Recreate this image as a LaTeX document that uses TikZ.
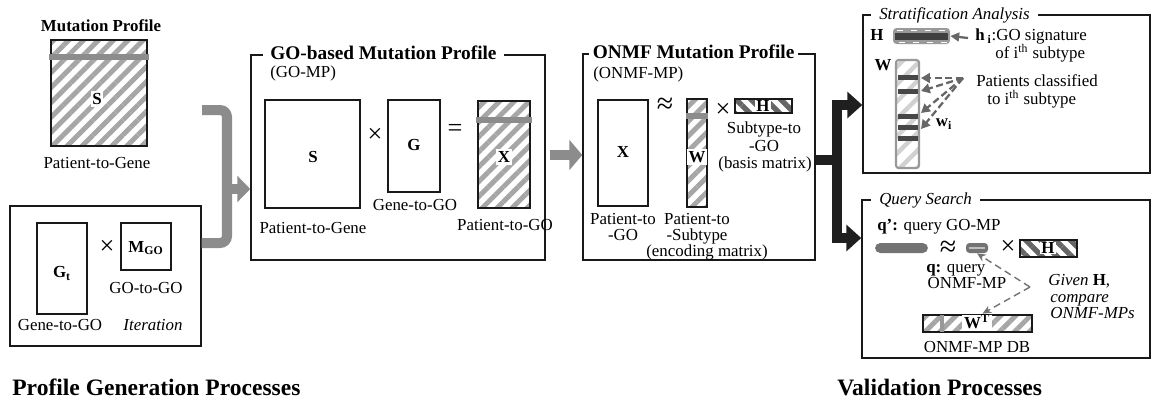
\documentclass[tikz,border=0pt]{standalone}
\usepackage{fontspec}
\setmainfont{Liberation Serif}
\usetikzlibrary{arrows.meta,patterns.meta,fit}
\begin{document}
\begin{tikzpicture}[x=0.02cm,y=-0.02cm,
  lab/.style={font=\fontsize{9.6}{11}\selectfont, inner sep=0pt, text height=0.66em, text depth=0pt},
  labb/.style={lab, font=\fontsize{9.6}{11}\selectfont\bfseries},
  labi/.style={lab, font=\fontsize{9.6}{11}\selectfont\itshape},
  mlab/.style={labb, fill=white, inner sep=1pt},
  ttl/.style={font=\fontsize{11}{13}\selectfont\bfseries, fill=white, inner ysep=1pt, text height=0.7em, text depth=0.2em, anchor=west},
  ittl/.style={font=\fontsize{9.6}{11}\selectfont\itshape, fill=white, inner ysep=1pt, inner xsep=4.5pt, text height=0.7em, text depth=0.2em, anchor=west},
  sect/.style={font=\fontsize{13.4}{16}\selectfont\bfseries, inner sep=0pt, text height=0.66em, text depth=0pt, anchor=west},
  op/.style={inner sep=0pt, font=\fontsize{15}{15}\selectfont},
  apx/.style={inner sep=0pt, font=\fontsize{17}{17}\selectfont, text height=0.42em, text depth=0pt},
  frame/.style={draw=black!90, line width=0.85pt, inner sep=0pt},
  mat/.style={draw=black!90, line width=1.6pt, inner sep=0pt},
  hatch/.style={pattern={Lines[angle=45,distance=6pt,line width=2.8pt]}, pattern color=black!35},
  dhatch/.style={pattern={Lines[angle=-45,distance=6pt,line width=3pt]}, pattern color=black!60},
  gbar/.style={draw=black!45, line width=3.4pt},
  garrow/.style={draw=black!45, line width=5.7pt},
  barrow/.style={draw=black!88, line width=5.7pt},
  darr/.style={draw=black!60, line width=1.3pt, dash pattern=on 4pt off 2pt, -{Triangle[length=5pt,width=5.5pt]}},
  qarr/.style={draw=black!55, line width=0.8pt, dash pattern=on 4pt off 2.5pt, -{Stealth[length=5pt,width=4.5pt]}}
]
\fill[white] (0,0) rectangle (1152,407);
\useasboundingbox (0,0) rectangle (1152,407);

% ---------- Mutation profile (top left)
\node[labb] (mptitle) at (101,26) {Mutation Profile};
\node[mat, hatch, fit={(51,40) (147,146)}] (S0) {};
\coordinate (s0bl) at (49,57); \coordinate (s0br) at (149,57);
\draw[gbar] (s0bl) -- (s0br);
\node[mlab] (S0l) at (97,99) {S};
\node[lab] (S0c) at (97,163) {Patient-to-Gene};

% ---------- Iteration box
\node[frame, fit={(10,206) (201,346)}] (iter) {};
\node[mat, fit={(37,223) (87,314)}] (Gt) {};
\node[labb] (Gtl) at (62,272) {G\textsubscript{t}};
\node[op] (x1) at (107,247) {×};
\node[mat, fit={(121,223) (171,270)}] (MGO) {};
\node[labb] (MGOl) at (MGO.center) {M\textsubscript{GO}};
\node[lab] (MGOc) at (146,288) {GO-to-GO};
\node[lab] (Gtc) at (60,325) {Gene-to-GO};
\node[labi] (itl) at (153,325) {Iteration};
\node[sect] (pgp) at (12,390) {Profile Generation Processes};

% ---------- GO-MP box
\node[frame, fit={(251,55) (545,260)}] (gomp) {};
\node[ttl, inner xsep=4pt] (gompt) at (263,55) {GO-based Mutation Profile};
\node[lab, anchor=west] (gomps) at (270,72) {(GO-MP)};
\node[mat, fit={(265,100) (360,208)}] (S1) {};
\node[labb] (S1l) at (313,157) {S};
\node[op] (x2) at (375,135) {×};
\node[mat, fit={(388,100) (440,192)}] (G1) {};
\node[labb] (G1l) at (414,145) {G};
\node[lab] (G1c) at (415,205) {Gene-to-GO};
\node[op] (eq) at (455,130) {=};
\node[mat, hatch, fit={(478,101) (530,208)}] (X1) {};
\coordinate (x1bl) at (476,120); \coordinate (x1br) at (532,120);
\draw[gbar] (x1bl) -- (x1br);
\node[mlab] (X1l) at (504,157) {X};
\node[lab] (S1c) at (313,228) {Patient-to-Gene};
\node[lab] (X1c) at (505,225) {Patient-to-GO};

% ---------- ONMF box
\node[frame, fit={(583,54) (815,260)}] (onmf) {};
\node[ttl, inner xsep=2pt] (onmft) at (589,54) {ONMF Mutation Profile};
\node[lab, anchor=west] (onmfs) at (593,73) {(ONMF-MP)};
\node[mat, fit={(598,100) (648,206)}] (X2) {};
\node[labb] (X2l) at (623,152) {X};
\node[apx] (ap1) at (665,110) {≈};
\node[mat, hatch, fit={(687,99) (707,207)}] (W2) {};
\coordinate (w2bl) at (686,116); \coordinate (w2br) at (708,116);
\draw[gbar] (w2bl) -- (w2br);
\node[mlab] (W2l) at (697,157) {W};
\node[op] (x3) at (723,110) {×};
\node[mat, dhatch, fit={(735,99) (792,113)}] (H2) {};
\node[mlab, inner ysep=0.3pt] (H2l) at (763,106) {H};
\node[lab] (H2c1) at (764,128) {Subtype-to};
\node[lab] (H2c2) at (764,146) {-GO};
\node[lab] (H2c3) at (765,163) {(basis matrix)};
\node[lab] (X2c1) at (623,219) {Patient-to};
\node[lab] (X2c2) at (623,235) {-GO};
\node[lab] (W2c1) at (697,219) {Patient-to};
\node[lab] (W2c2) at (697,235) {-Subtype};
\node[lab] (W2c3) at (707,251) {(encoding matrix)};

% ---------- gray arrows
\coordinate (g1s) at (202,110);
\coordinate (g1c) at (227,110);
\coordinate (g1b) at (227,243);
\coordinate (g1m) at (227,189);
\draw[garrow, rounded corners=4pt] (g1s) -- (g1c) -- (g1b) -- (iter.east |- g1b);
\draw[garrow, -{Triangle[length=7.4pt,width=14.7pt]}] (g1m) -- (gomp.west |- g1m);
\coordinate (g2s) at (550,155);
\draw[garrow, -{Triangle[length=7.4pt,width=17pt]}] (g2s) -- (onmf.west |- g2s);

% ---------- Stratification analysis
\node[frame, fit={(863,15) (1150,173)}] (strat) {};
\node[ittl] (stratt) at (871,15) {Stratification Analysis};
\node[labb] (Hs) at (877,35) {H};
\node[fit={(893,28) (950,44)}, inner sep=0pt, fill=black!40, rounded corners=2pt] (hbar) {};
\fill[black!75] (895,33) rectangle (948,40);
\draw[white, line width=1pt, dash pattern=on 3.5pt off 4.5pt] (897,30.5) -- (948,30.5);
\draw[white, line width=1pt, dash pattern=on 3.5pt off 4.5pt] (899,42.5) -- (948,42.5);
\coordinate (hsrc) at (968,38);
\draw[draw=black!60, line width=1.3pt, -{Triangle[length=5pt,width=5pt]}] (hsrc) -- (hbar.east);
\node[lab, anchor=west] (hsig1) at (975,35) {\textbf{h}\,\textsubscript{\textbf{i}}:GO signature};
\node[lab, anchor=west] (hsig2) at (995,53) {of i\textsuperscript{th} subtype};
\node[labb] (Ws) at (883,65) {W};
\node[fit={(896,60) (919,168)}, inner sep=0pt, draw=black!40, line width=1.2pt, rounded corners=1.5pt,
      pattern={Lines[angle=45,distance=7pt,line width=2.5pt]}, pattern color=black!18] (wcol) {};
\foreach \yy in {77,91,116,127,138} \fill[black!72] (897.5,\yy-2.5) rectangle (917.5,\yy+2.5);
\coordinate (dsrc) at (963,78);
\coordinate (wb1) at (921,78);
\coordinate (wb2) at (921,91);
\coordinate (wb3) at (921,113);
\coordinate (wb4) at (921,129);
\draw[darr] (dsrc) -- (wb1);
\draw[darr] (dsrc) -- (wb2);
\draw[darr] (dsrc) -- (wb3);
\draw[darr] (dsrc) -- (wb4);
\node[labb] (wi) at (944,121) {w\textsubscript{i}};
\node[lab, anchor=west] (pc1) at (976,81) {Patients classified};
\node[lab, anchor=west] (pc2) at (987,99) {to i\textsuperscript{th} subtype};

% ---------- Query search
\node[frame, fit={(862,200) (1150,358)}] (query) {};
\node[ittl] (queryt) at (871,200) {Query Search};
\node[lab, anchor=west] (qp) at (877,225) {\textbf{q’:} query GO-MP};
\node[fit={(875,243) (928,253)}, inner sep=0pt, fill=black!55, rounded corners=3pt] (qpbar) {};
\node[apx] (ap2) at (948,253) {≈};
\node[fit={(966,243) (988,253)}, inner sep=0pt, fill=black!55, rounded corners=2pt] (qbar) {};
\draw[black!25, line width=0.6pt] ([xshift=0.06cm]qbar.west) -- ([xshift=-0.06cm]qbar.east);
\node[op] (x4) at (1008,247) {×};
\node[mat, dhatch, fit={(1020,240) (1077,257)}] (hq) {};
\node[mlab, inner ysep=0.3pt] (hql) at (1048,248) {H};
\node[lab, anchor=west] (q1) at (926,267) {\textbf{q:} query};
\node[lab] (q2) at (967,283) {ONMF-MP};
\node[mat, hatch, fit={(923,315) (1032,332)}] (wt) {};
\coordinate (wtb1) at (942,315); \coordinate (wtb2) at (942,332);
\draw[draw=black!40, line width=2.8pt] (wtb1) -- (wtb2);
\node[mlab] (wtl) at (977,323) {W\textsuperscript{T}};
\node[lab] (wtc) at (977,347) {ONMF-MP DB};
\coordinate (qv) at (1030,287);
\draw[qarr] (qv) -- (qbar.south);
\draw[qarr] (qv) -- ([xshift=0.1cm]wt.north);
\node[labi, anchor=west] (gv1) at (1048,280) {Given \textbf{\upshape H},};
\node[labi, anchor=west] (gv2) at (1050,297) {compare};
\node[labi, anchor=west] (gv3) at (1050,313) {ONMF-MPs};
\node[sect] (vp) at (837,390) {Validation Processes};

% ---------- black arrows
\coordinate (b0) at (837,160);
\coordinate (bt) at (837,105);
\coordinate (bb) at (837,238);
\draw[barrow] (onmf.east |- b0) -- (b0);
\draw[barrow, -{Triangle[length=8.5pt,width=14.7pt]}] (b0) -- (bt) -- (strat.west |- bt);
\draw[barrow, -{Triangle[length=8.5pt,width=14.7pt]}] (b0) -- (bb) -- (query.west |- bb);
\end{tikzpicture}
\end{document}
